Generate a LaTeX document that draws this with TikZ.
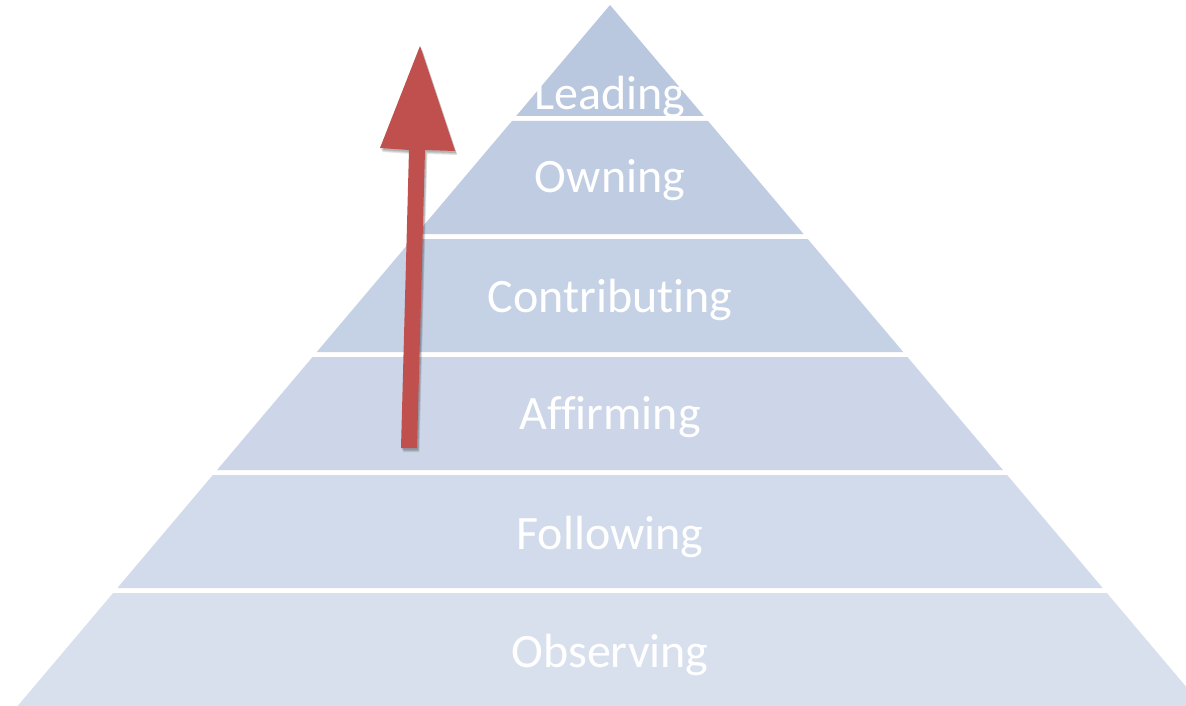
\documentclass[tikz,border=0pt]{standalone}
\usepackage{fontspec}
\setmainfont{Carlito}[Ligatures={NoCommon,NoContextual}]
\definecolor{bandA}{HTML}{B9C7DF}
\definecolor{bandB}{HTML}{BFCCE2}
\definecolor{bandC}{HTML}{C5D1E5}
\definecolor{bandD}{HTML}{CCD6E8}
\definecolor{bandE}{HTML}{D2DBEB}
\definecolor{bandF}{HTML}{D8E0EE}
\definecolor{arrowred}{HTML}{C0504D}
\newcommand\pyrband[3]{\fill[#3] ({610-0.845*(#1-5)},#1) -- ({610+0.845*(#1-5)},#1) -- ({610+0.845*(#2-5)},#2) -- ({610-0.845*(#2-5)},#2) -- cycle;}
\begin{document}
\begin{tikzpicture}[x=1pt,y=-1pt,
  lbl/.style={text=white,font=\fontsize{48}{56}\selectfont,anchor=base,inner sep=0pt}]
\useasboundingbox (0,0) rectangle (1186,706);
\clip (0,0) rectangle (1186,706);
\fill[white] (0,0) rectangle (1186,706);
\fill[bandA] (610,5) -- ({610+0.845*111},116) -- ({610-0.845*111},116) -- cycle;
\pyrband{121}{234}{bandB}
\pyrband{239}{352}{bandC}
\pyrband{357}{470}{bandD}
\pyrband{475}{588}{bandE}
\pyrband{593}{712}{bandF}
\node[lbl] (leading) at (610,110) {Leading};
\node[lbl] (owning) at (610,193) {Owning};
\node[lbl] (contributing) at (610,312) {Contributing};
\node[lbl] (affirming) at (610,429) {Affirming};
\node[lbl] (following) at (610,549) {Following};
\node[lbl] (observing) at (610,667) {Observing};
% arrow shadow
\foreach \o/\s in {0.10/4, 0.10/3, 0.12/2}{
  \fill[black,opacity=\o] (401+\s*0.6,448+\s) -- (417+\s*0.6,448+\s) -- (425+\s*0.6,150+\s) -- (455+\s*0.6,151+\s) -- (420+\s*0.6,46+\s) -- (380+\s*0.6,148+\s) -- (409+\s*0.6,150+\s) -- cycle;
}
% arrow
\fill[arrowred] (401,448) -- (417,448) -- (425,150) -- (455,151) -- (420,46) -- (380,148) -- (409,150) -- cycle;
\end{tikzpicture}
\end{document}
